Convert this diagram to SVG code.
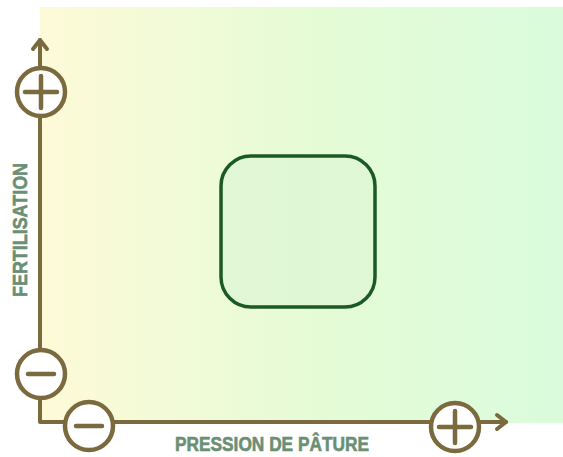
<svg xmlns="http://www.w3.org/2000/svg" width="563" height="457" viewBox="0 0 563 457">
<defs>
<linearGradient id="bg" x1="0" y1="0" x2="1" y2="0">
<stop offset="0" stop-color="#fefad8"/>
<stop offset="0.5" stop-color="#e6fbd6"/>
<stop offset="1" stop-color="#dafcdc"/>
</linearGradient>
<style>
.ax{fill:none;stroke:#7a6a3d;stroke-width:4;stroke-linecap:round;stroke-linejoin:round}
.c{fill:#ffffff;stroke:#7a6a3d;stroke-width:4.5}
.sg{stroke:#7a6a3d;stroke-width:4.5;stroke-linecap:round}
.lbl{font-family:"Liberation Sans",Arial,sans-serif;font-weight:bold;font-size:20px;fill:#6a8f73;stroke:#6a8f73;stroke-width:0.6}
</style>
</defs>
<rect x="40" y="7" width="523" height="416" fill="url(#bg)"/>
<g id="box">
<rect x="221" y="156" width="154" height="151" rx="30" ry="30" fill="#dcf5d4" fill-opacity="0.6" stroke="#1b5a26" stroke-width="3.5"/>
</g>
<g id="connectors">
<path class="ax" d="M40,40 V422 H506"/>
<path class="ax" d="M33,49 L40,40 L47,49"/>
<path class="ax" d="M497,415 L506,422 L497,429"/>
</g>
<g id="y-plus">
<circle class="c" cx="41" cy="92" r="24"/>
<line class="sg" x1="25" y1="92" x2="57" y2="92"/>
<line class="sg" x1="41" y1="76" x2="41" y2="108"/>
</g>
<g id="y-minus">
<circle class="c" cx="41" cy="374" r="24"/>
<line class="sg" x1="28" y1="374" x2="54" y2="374"/>
</g>
<g id="x-minus">
<circle class="c" cx="89" cy="426" r="24"/>
<line class="sg" x1="76" y1="426" x2="102" y2="426"/>
</g>
<g id="x-plus">
<circle class="c" cx="455" cy="427" r="24"/>
<line class="sg" x1="439" y1="427" x2="471" y2="427"/>
<line class="sg" x1="455" y1="411" x2="455" y2="443"/>
</g>
<g id="label-y">
<text class="lbl" transform="translate(27,230) rotate(-90)" text-anchor="middle" textLength="134" lengthAdjust="spacingAndGlyphs">FERTILISATION</text>
</g>
<g id="label-x">
<text class="lbl" x="175" y="451" textLength="194" lengthAdjust="spacingAndGlyphs">PRESSION DE PÂTURE</text>
</g>
</svg>
